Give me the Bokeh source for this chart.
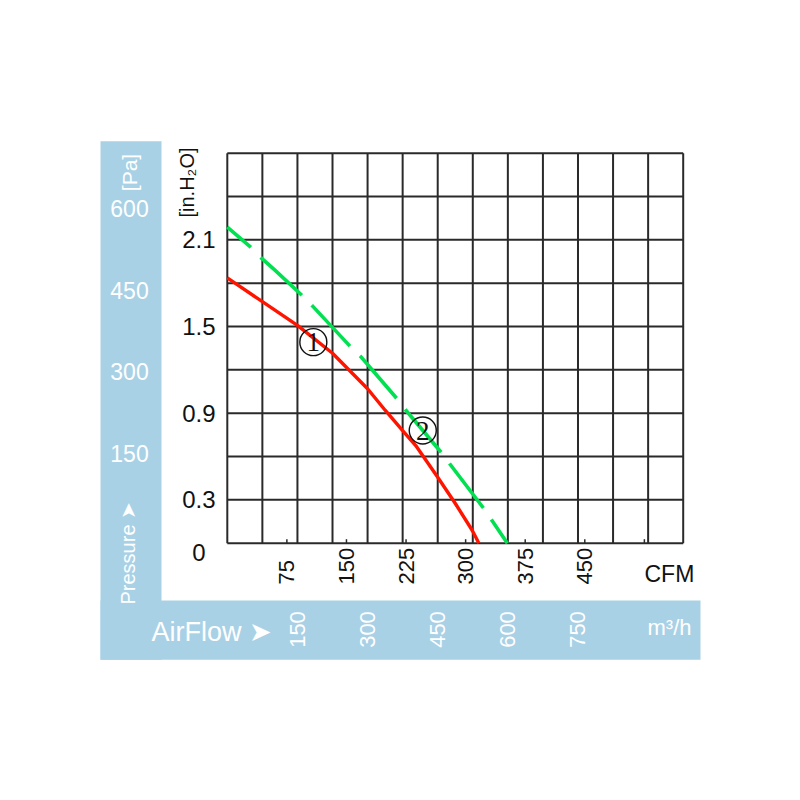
import math
from bokeh.plotting import figure
from bokeh.models import Range1d
from bokeh.core.properties import value
from bokeh.embed import file_html
from bokeh.resources import INLINE

# ---------------- data ----------------
# grid: airflow in m3/h every 75, pressure in inH2O every 0.3
flow_grid_m3h = [0, 75, 150, 225, 300, 375, 450, 525, 600, 675, 750, 825, 900, 975]
pressure_grid_in = [0.0, 0.3, 0.6, 0.9, 1.2, 1.5, 1.8, 2.1, 2.4, 2.7]

inh2o_ticks = [0.3, 0.9, 1.5, 2.1]
inh2o_labels = ["0.3", "0.9", "1.5", "2.1"]

cfm_tick_marks = [75, 150, 225, 300, 375, 450, 525]
cfm_tick_labels = [75, 150, 225, 300, 375, 450]

m3h_ticks = [150, 300, 450, 600, 750]
pa_ticks = [150, 300, 450, 600]

# curve 1 (red, solid): airflow m3/h, static pressure inH2O
curve1_flow = [0, 75, 150, 225, 300, 338, 375, 403, 450, 488, 524, 538]
curve1_press = [1.837, 1.672, 1.508, 1.315, 1.069, 0.919, 0.780, 0.676, 0.457, 0.273, 0.088, 0.0]

# curve 2 (green, dashed)
curve2_flow = [0, 50, 71, 103, 160, 182, 263, 285, 317, 363, 381, 460, 476, 549, 599]
curve2_press = [2.188, 2.049, 1.980, 1.887, 1.715, 1.643, 1.362, 1.293, 1.173, 1.000, 0.924, 0.619, 0.548, 0.238, 0.0]

curve_names = ["1", "2"]
curve_label_flow = [184, 418]
curve_label_press = [1.392, 0.780]

M3H_PER_CFM = 1.699
# Pa scale as printed on the reference's left band
PA_AXIS_OFFSET = 0.06
PA_AXIS_SLOPE = 0.003762

# ---------------- layout helpers (picture pixels -> data) ----------------
GX0, GX_SCALE = 226.8, 455.9 / 975.0
GY0, GY_SCALE = 542.7, 390.0 / 2.7


def px2x(px):
    return (px - GX0) / GX_SCALE


def py2y(py):
    return (GY0 - py) / GY_SCALE


W = H = 784
p = figure(width=W, height=H, output_backend="svg", toolbar_location=None,
           x_range=Range1d(px2x(0), px2x(W)),
           y_range=Range1d(py2y(H), py2y(0)),
           x_axis_type=None, y_axis_type=None, min_border=0,
           outline_line_color=None, background_fill_color="white",
           border_fill_color="white")
p.grid.visible = False

FONT = value("Liberation Sans Narrow, Liberation Sans, sans-serif")
SERIF = value("Liberation Serif, DejaVu Serif, serif")
BAND = "#a9d1e6"
GRID = "#2a2a2a"
INK = "#111111"

# blue bands
p.quad(left=[px2x(100), px2x(100)], right=[px2x(161), px2x(700)],
       bottom=[py2y(659.3), py2y(659.3)], top=[py2y(140.7), py2y(600)],
       fill_color=BAND, line_color=None)

# grid
xmax, ymax = flow_grid_m3h[-1], pressure_grid_in[-1]
p.segment(x0=flow_grid_m3h, x1=flow_grid_m3h, y0=[0] * len(flow_grid_m3h),
          y1=[ymax] * len(flow_grid_m3h), line_color=GRID, line_width=2)
p.segment(x0=[0] * len(pressure_grid_in), x1=[xmax] * len(pressure_grid_in),
          y0=pressure_grid_in, y1=pressure_grid_in, line_color=GRID, line_width=2)

# CFM tick marks
cfm_x = [c * M3H_PER_CFM for c in cfm_tick_marks]
p.segment(x0=cfm_x, x1=cfm_x, y0=[0] * len(cfm_x), y1=[py2y(GY0 - 4)] * len(cfm_x),
          line_color=GRID, line_width=1.5)

# curves
p.line(curve1_flow, curve1_press, line_color="#ff1400", line_width=3.4,
       line_join="round")
p.line(curve2_flow, curve2_press, line_color="#00e050", line_width=3.6,
       line_dash="56 14", line_dash_offset=25, line_join="round")

# curve markers (circled numbers)
p.scatter(curve_label_flow, curve_label_press, marker="circle", size=27,
          fill_color=None, line_color=INK, line_width=1.4)
p.text(curve_label_flow, curve_label_press, text=curve_names, text_font=SERIF,
       text_font_size="27px", text_align="center", text_baseline="middle",
       text_color=INK)

# inH2O tick labels
p.text([px2x(215)] * len(inh2o_ticks), inh2o_ticks, text=inh2o_labels,
       text_font=FONT, text_font_size="24px", text_align="right",
       text_baseline="middle", text_color=INK)
p.text([px2x(205)], [py2y(552)], text=["0"], text_font=FONT, text_font_size="24px",
       text_align="right", text_baseline="middle", text_color=INK)
p.text([px2x(186)], [py2y(182)], text=["[in.H\u2082O]"], angle=math.pi / 2,
       text_font=FONT, text_font_size="20px", text_align="center",
       text_baseline="middle", text_color=INK)

# CFM tick labels (rotated)
p.text([c * M3H_PER_CFM for c in cfm_tick_labels], [py2y(584)] * len(cfm_tick_labels),
       text=[str(c) for c in cfm_tick_labels], angle=math.pi / 2,
       text_font=FONT, text_font_size="22px", text_align="left",
       text_baseline="middle", text_color=INK)
p.text([px2x(644)], [py2y(573)], text=["CFM"], text_font=FONT, text_font_size="23px",
       text_align="left", text_baseline="middle", text_color=INK)

# Pa labels in the left band
p.text([px2x(129)] * len(pa_ticks), [PA_AXIS_OFFSET + pa * PA_AXIS_SLOPE for pa in pa_ticks],
       text=[str(v) for v in pa_ticks], text_font=FONT, text_font_size="23px",
       text_align="center", text_baseline="middle", text_color="white")
p.text([px2x(129)], [py2y(172)], text=["[Pa]"], angle=math.pi / 2, text_font=FONT,
       text_font_size="21px", text_align="center", text_baseline="middle",
       text_color="white")
p.text([px2x(127)], [py2y(604)], text=["Pressure \u27a4"], angle=math.pi / 2,
       text_font=FONT, text_font_size="20px", text_align="left",
       text_baseline="middle", text_color="white")

# m3/h labels in the bottom band
p.text(m3h_ticks, [py2y(629)] * len(m3h_ticks), text=[str(v) for v in m3h_ticks],
       angle=math.pi / 2, text_font=FONT, text_font_size="22px", text_align="center",
       text_baseline="middle", text_color="white")
p.text([px2x(151)], [py2y(631)], text=["AirFlow \u27a4"], text_font=FONT,
       text_font_size="27px", text_align="left", text_baseline="middle",
       text_color="white")
p.text([px2x(647)], [py2y(627)], text=["m\u00b3/h"], text_font=FONT,
       text_font_size="22px", text_align="left", text_baseline="middle",
       text_color="white")

open("out.html", "w").write(file_html(p, INLINE))
